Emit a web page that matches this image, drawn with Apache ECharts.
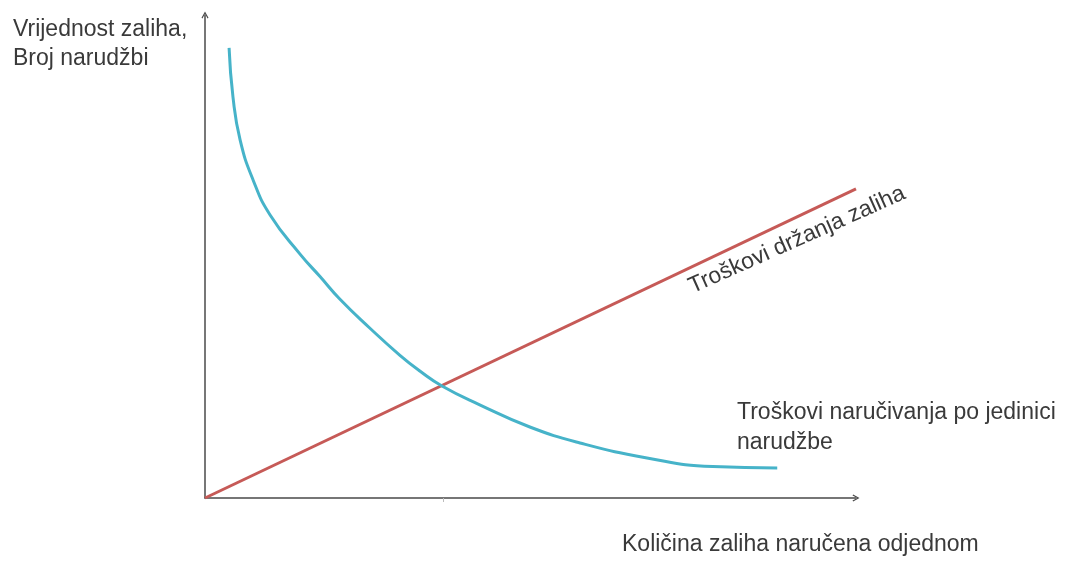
<!DOCTYPE html>
<html>
<head>
<meta charset="utf-8">
<script src="https://cdn.jsdelivr.net/npm/echarts@6/dist/echarts.min.js"></script>
<style>
  html, body { margin: 0; padding: 0; background: #fff; }
  #chart { width: 1066px; height: 562px; }
</style>
</head>
<body>
<div id="chart"></div>
<script>
// quantity ordered (x) vs value (y), arbitrary units 0..100
var orderingX = [3.7, 4.3, 5.4, 7.4, 10.0, 14.6, 17.7, 20.7, 25.3, 29.9, 33.0, 36.4, 42.2, 49.9, 57.6, 67.9, 78.0, 87.9];
var orderingY = [93.2, 83.0, 74.1, 65.8, 58.6, 50.5, 45.8, 41.2, 35.2, 29.6, 26.3, 23.2, 19.3, 14.7, 11.4, 8.3, 6.5, 6.2];
var holdingX = [0, 100];
var holdingY = [0, 64];
var tickValues = [36.6];

var yTitle = "Vrijednost zaliha,\nBroj narudžbi";
var xTitle = "Količina zaliha naručena odjednom";
var holdingName = "Troškovi držanja zaliha";
var orderingName = "Troškovi naručivanja po jedinici\nnarudžbe";

function pairs(xs, ys) {
  var out = [];
  for (var i = 0; i < xs.length; i++) out.push([xs[i], ys[i]]);
  return out;
}

var chart = echarts.init(document.getElementById("chart"));
var font = "'Liberation Sans', Arial, sans-serif";
var textColor = "#3a3a3a";
var axisColor = "#4a4a4a";
var chevron = "path://M5,0 L10,9 L8.6,10 L5,3.2 L1.4,10 L0,9 Z";

var option = {
  animation: false,
  backgroundColor: "#fff",
  grid: { left: 205, right: 210, top: 15, bottom: 64 },
  xAxis: {
    type: "value",
    min: 0,
    max: 100,
    axisLine: {
      show: true,
      symbol: ["none", chevron],
      symbolSize: [11, 7],
      lineStyle: { color: axisColor, width: 1.5 }
    },
    axisTick: {
      show: true,
      inside: false,
      length: 4,
      customValues: tickValues,
      lineStyle: { color: "#bbb", width: 1 }
    },
    axisLabel: { show: false },
    splitLine: { show: false }
  },
  yAxis: {
    type: "value",
    min: 0,
    max: 100,
    axisLine: {
      show: true,
      symbol: ["none", chevron],
      symbolSize: [11, 7],
      lineStyle: { color: axisColor, width: 1.5 }
    },
    axisTick: { show: false },
    axisLabel: { show: false },
    splitLine: { show: false }
  },
  series: [
    {
      name: holdingName,
      type: "line",
      data: pairs(holdingX, holdingY),
      showSymbol: false,
      clip: false,
      lineStyle: { color: "#c65a57", width: 3 },
      z: 2
    },
    {
      name: orderingName,
      type: "line",
      data: pairs(orderingX, orderingY),
      smooth: 0.5,
      showSymbol: false,
      clip: false,
      lineStyle: { color: "#46b3c9", width: 3 },
      z: 3
    }
  ],
  graphic: [
    {
      type: "text",
      left: 13,
      top: 15,
      style: {
        text: yTitle,
        font: "23px " + font,
        lineHeight: 29,
        fill: textColor
      }
    },
    {
      type: "text",
      left: 622,
      top: 533,
      style: {
        text: xTitle,
        font: "23px " + font,
        fill: textColor
      }
    },
    {
      type: "text",
      left: 737,
      top: 398,
      style: {
        text: orderingName,
        font: "23px " + font,
        lineHeight: 30,
        fill: textColor
      }
    },
    {
      type: "text",
      x: 797,
      y: 240,
      rotation: 24 * Math.PI / 180,
      style: {
        text: holdingName,
        font: "23px " + font,
        fill: textColor,
        align: "center",
        verticalAlign: "middle"
      }
    }
  ]
};

chart.setOption(option);
</script>
</body>
</html>
